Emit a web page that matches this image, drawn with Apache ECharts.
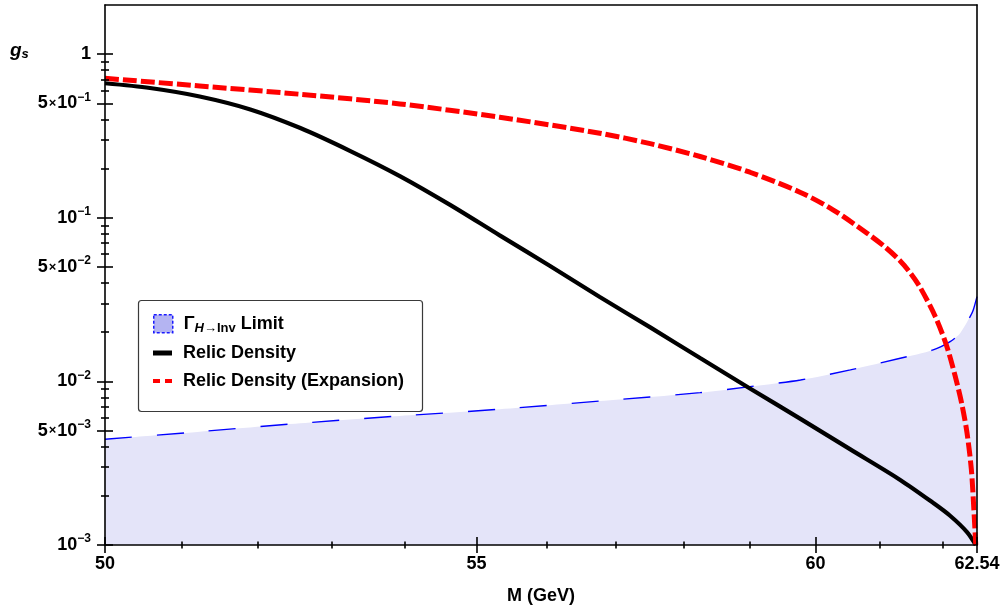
<!DOCTYPE html>
<html>
<head>
<meta charset="utf-8">
<script src="https://cdn.jsdelivr.net/npm/echarts@6/dist/echarts.min.js"></script>
<style>
  html, body { margin: 0; padding: 0; background: #fff; }
  #chart { width: 1006px; height: 612px; }
</style>
</head>
<body>
<div id="chart"></div>
<script>
// Dark-matter coupling g_s versus mass M (GeV), both on logarithmic scales.

// Relic density constraint (solid black)
const relicMass = [50, 50.58, 51.23, 51.9, 52.57, 53.25, 53.93, 54.63, 55.33, 56.05, 56.77,
  57.51, 58.25, 59.0, 59.77, 60.54, 61.32, 61.84, 62.11, 62.38, 62.52];
const relicDensity = [0.665, 0.622, 0.552, 0.46, 0.354, 0.256, 0.18, 0.12, 0.0781, 0.0508, 0.0328,
  0.0214, 0.0139, 0.00906, 0.0059, 0.00384, 0.0025, 0.00181, 0.00151, 0.0012, 0.001];

// Relic density, expansion approximation (red dashed)
const expansionMass = [50, 51.23, 52.57, 53.93, 55.33, 56.77, 57.51, 58.25, 59.0, 59.77, 60.27,
  60.8, 61.08, 61.32, 61.48, 61.63, 61.87, 62.05, 62.19, 62.3, 62.38, 62.45, 62.49, 62.52];
const relicExpansion = [0.713, 0.64, 0.569, 0.497, 0.412, 0.329, 0.284, 0.237, 0.19, 0.143, 0.112,
  0.0805, 0.0664, 0.0545, 0.046, 0.0378, 0.0251, 0.0167, 0.0108, 0.00718, 0.00484, 0.00288, 0.00164, 0.001];

// Invisible Higgs width limit (blue dashed boundary, shaded below)
const limitMass = [50, 51.23, 52.57, 53.93, 55.33, 56.77, 58.25, 59.0, 59.77, 60.54, 61.32,
  61.84, 62.11, 62.27, 62.43, 62.48, 62.54];
const invisibleLimit = [0.00443, 0.00493, 0.00555, 0.00615, 0.00676, 0.00759, 0.00854, 0.00929,
  0.01021, 0.01176, 0.01386, 0.01558, 0.01751, 0.0197, 0.0249, 0.02735, 0.033];

// Axis ticks
const xMajorTicks = [50, 55, 60, 62.54];
const xTickLabels = ['50', '55', '60', '62.54'];
const xMinorTicks = [51, 52, 53, 54, 56, 57, 58, 59, 61, 62];
const yMajorTicks = [0.001, 0.005, 0.01, 0.05, 0.1, 0.5, 1];
const yMinorTicks = [0.002, 0.003, 0.004, 0.006, 0.007, 0.008, 0.009,
  0.02, 0.03, 0.04, 0.06, 0.07, 0.08, 0.09,
  0.2, 0.3, 0.4, 0.6, 0.7, 0.8, 0.9];

const seriesNames = ['Γ H→Inv Limit', 'Relic Density', 'Relic Density (Expansion)'];

const FONT = '"Liberation Sans", Arial, Helvetica, sans-serif';
const lx = Math.log;
const ly = Math.log10;
const X_MIN = lx(50), X_MAX = lx(62.54);
const Y_MIN = ly(0.001), Y_MAX = ly(2);

const toPoints = (ms, gs) => ms.map((m, i) => [lx(m), ly(gs[i])]);

function xLabel(v) {
  const m = Math.exp(v);
  for (let i = 0; i < xMajorTicks.length; i++) {
    if (Math.abs(xMajorTicks[i] - m) < 1e-4) return xTickLabels[i];
  }
  return '';
}

function yLabel(v) {
  const exp = Math.floor(v + 1e-9);
  const mant = Math.round(Math.pow(10, v - exp));
  if (exp === 0) return '{b|' + mant + '}';
  const sup = '{e|−' + (-exp) + '}';
  if (mant === 1) return '{b|10}' + sup;
  return '{b|' + mant + '}{x|×}{b|10}' + sup;
}

const tickStyle = { color: '#000', width: 1.6 };

function xTickAxis(values, inside, length) {
  return {
    type: 'value', min: X_MIN, max: X_MAX, position: 'bottom', z: 5,
    axisLine: { show: false, onZero: false },
    axisTick: { show: true, inside: inside, length: length, lineStyle: tickStyle, customValues: values.map(lx) },
    axisLabel: { show: false }, splitLine: { show: false }
  };
}
function yTickAxis(values, inside, length) {
  return {
    type: 'value', min: Y_MIN, max: Y_MAX, position: 'left', z: 5,
    axisLine: { show: false, onZero: false },
    axisTick: { show: true, inside: inside, length: length, lineStyle: tickStyle, customValues: values.map(ly) },
    axisLabel: { show: false }, splitLine: { show: false }
  };
}

const legendRich = {
  sp: { width: 6 },
  t: { fontFamily: FONT, fontSize: 18, fontWeight: 'bold', color: '#000', lineHeight: 22 },
  hi: { fontFamily: FONT, fontSize: 13, fontWeight: 'bold', fontStyle: 'italic', color: '#000', verticalAlign: 'bottom', lineHeight: 13 },
  h: { fontFamily: FONT, fontSize: 13, fontWeight: 'bold', color: '#000', verticalAlign: 'bottom', lineHeight: 13 }
};
function legendText(name) {
  if (name === seriesNames[0]) return '{sp| }{t|Γ}{hi|H}{h|→Inv}{t| Limit}';
  return '{sp| }{t|' + name + '}';
}
function legendFor(item, top, w, h) {
  return {
    data: [item], left: 153, top: top, itemWidth: w, itemHeight: h, padding: 0,
    selectedMode: false, z: 10, formatter: legendText, textStyle: { rich: legendRich }
  };
}

const option = {
  animation: false,
  backgroundColor: '#fff',
  grid: { left: 105, right: 29, top: 5, bottom: 67, outerBoundsMode: 'none' },
  title: {
    text: '{g|g}{s|s}', left: 10, top: 41, padding: 0,
    textStyle: {
      rich: {
        g: { fontFamily: FONT, fontSize: 19, fontWeight: 'bold', fontStyle: 'italic', color: '#000', lineHeight: 20 },
        s: { fontFamily: FONT, fontSize: 13, fontWeight: 'bold', fontStyle: 'italic', color: '#000', verticalAlign: 'bottom', lineHeight: 15 }
      }
    }
  },
  legend: [
    legendFor({ name: seriesNames[0], icon: 'rect',
      itemStyle: { color: '#b4b4f2', borderColor: '#1a1aff', borderWidth: 1.5, borderType: [3, 2] } }, 314, 19, 18),
    legendFor({ name: seriesNames[1], icon: 'rect', itemStyle: { color: '#000' } }, 344, 19, 5),
    legendFor({ name: seriesNames[2], icon: 'path://M0,0h7v4h-7z M12,0h7v4h-7z', itemStyle: { color: '#ff0000' } }, 372, 19, 4)
  ],
  graphic: [{
    type: 'rect', z: 8,
    shape: { x: 138.5, y: 300.5, width: 284, height: 111, r: 3 },
    style: { fill: '#fff', stroke: '#3a3a3a', lineWidth: 1.2 }
  }],
  xAxis: [
    {
      type: 'value', min: X_MIN, max: X_MAX, position: 'bottom', z: 5,
      axisLine: { show: true, onZero: false, lineStyle: { color: '#000', width: 1.6 } },
      axisTick: { show: true, inside: true, length: 8, lineStyle: tickStyle, customValues: xMajorTicks.map(lx) },
      axisLabel: {
        show: true, margin: 10, customValues: xMajorTicks.map(lx), formatter: xLabel,
        color: '#000', fontFamily: FONT, fontSize: 18, fontWeight: 'bold'
      },
      splitLine: { show: false },
      name: 'M (GeV)', nameLocation: 'middle', nameGap: 42,
      nameTextStyle: { color: '#000', fontFamily: FONT, fontSize: 18, fontWeight: 'bold' }
    },
    xTickAxis(xMajorTicks, false, 8),
    xTickAxis(xMinorTicks, true, 3.5),
    xTickAxis(xMinorTicks, false, 3.5),
    {
      type: 'value', min: X_MIN, max: X_MAX, position: 'top', z: 5,
      axisLine: { show: true, onZero: false, lineStyle: { color: '#000', width: 1.6 } },
      axisTick: { show: false }, axisLabel: { show: false }, splitLine: { show: false }
    }
  ],
  yAxis: [
    {
      type: 'value', min: Y_MIN, max: Y_MAX, position: 'left', z: 5,
      axisLine: { show: true, onZero: false, lineStyle: { color: '#000', width: 1.6 } },
      axisTick: { show: true, inside: true, length: 8, lineStyle: tickStyle, customValues: yMajorTicks.map(ly) },
      axisLabel: {
        show: true, margin: 14, customValues: yMajorTicks.map(ly), formatter: yLabel,
        rich: {
          b: { fontFamily: FONT, fontSize: 18, fontWeight: 'bold', color: '#000', lineHeight: 24 },
          x: { fontFamily: FONT, fontSize: 13, fontWeight: 'bold', color: '#000', padding: [0, 1, 0, 1] },
          e: { fontFamily: FONT, fontSize: 12, fontWeight: 'bold', color: '#000', verticalAlign: 'top', lineHeight: 12 }
        }
      },
      splitLine: { show: false }
    },
    yTickAxis(yMajorTicks, false, 8),
    yTickAxis(yMinorTicks, true, 4),
    yTickAxis(yMinorTicks, false, 4),
    {
      type: 'value', min: Y_MIN, max: Y_MAX, position: 'right', z: 5,
      axisLine: { show: true, onZero: false, lineStyle: { color: '#000', width: 1.6 } },
      axisTick: { show: false }, axisLabel: { show: false }, splitLine: { show: false }
    }
  ],
  series: [
    {
      name: seriesNames[0], type: 'line', xAxisIndex: 0, yAxisIndex: 0, z: 2,
      data: toPoints(limitMass, invisibleLimit),
      showSymbol: false, smooth: 0.25,
      lineStyle: { color: '#0000ff', width: 1.4, type: [27, 25] },
      areaStyle: { color: '#e4e4f9', opacity: 1, origin: 'start' },
      itemStyle: { color: '#b4b4f2' }
    },
    {
      name: seriesNames[1], type: 'line', xAxisIndex: 0, yAxisIndex: 0, z: 3,
      data: toPoints(relicMass, relicDensity),
      showSymbol: false, smooth: 0.3,
      lineStyle: { color: '#000', width: 4.2, cap: 'butt' },
      itemStyle: { color: '#000' }
    },
    {
      name: seriesNames[2], type: 'line', xAxisIndex: 0, yAxisIndex: 0, z: 4,
      data: toPoints(expansionMass, relicExpansion),
      showSymbol: false, smooth: 0.3,
      lineStyle: { color: '#ff0000', width: 5, type: [14, 4] },
      itemStyle: { color: '#ff0000' }
    }
  ]
};

const chart = echarts.init(document.getElementById('chart'), null, { renderer: 'canvas' });
chart.setOption(option);
</script>
</body>
</html>
